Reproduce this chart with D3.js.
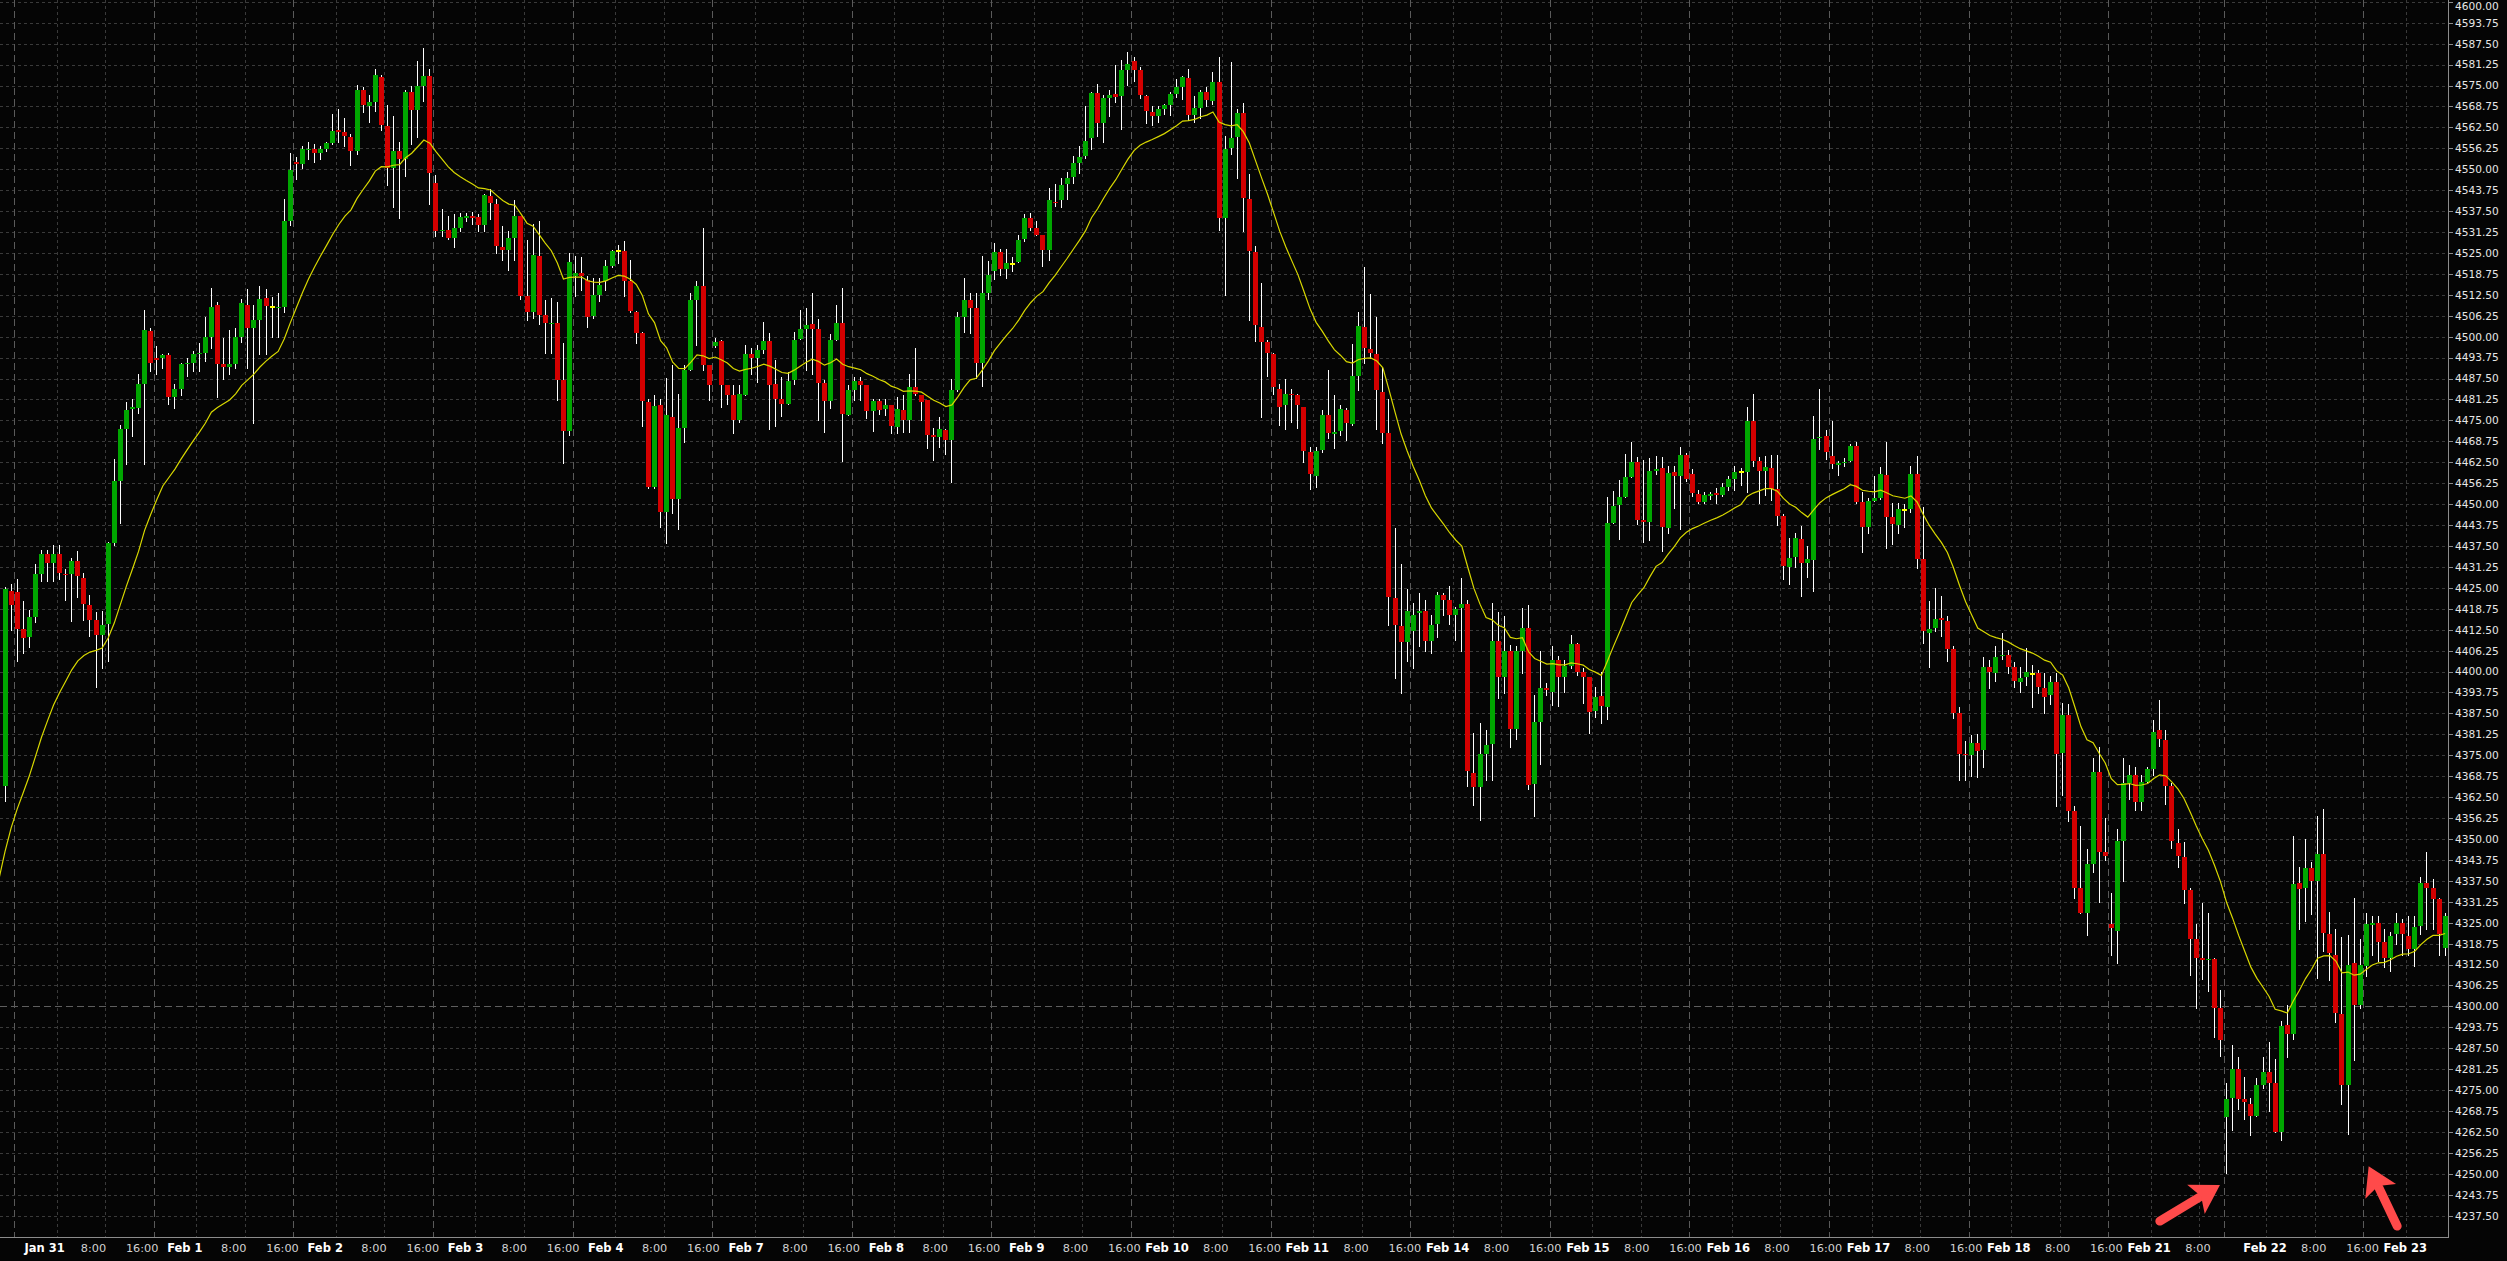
<!DOCTYPE html>
<html><head><meta charset="utf-8">
<script src="https://cdn.jsdelivr.net/npm/d3@7/dist/d3.min.js"></script>
<style>html,body{margin:0;padding:0;background:#050505;overflow:hidden}</style>
</head><body><svg id="c" width="2507" height="1261"></svg>
<script>
// ---------------- DATA (hourly bars) ----------------
const open = [4365.75,4424,4423.75,4412.75,4410.25,4416.25,4429,4435,4432.5,4435,
4429.25,4429,4433,4428,4420,4415.5,4411,4414.25,4438.25,4456.75,
4472.5,4478.5,4478.75,4485.75,4501.75,4493.5,4493.5,4494.5,4482,4484.25,
4491.75,4492.25,4494.75,4495,4500,4509.5,4491.75,4491,4491.75,4500,
4509.5,4502.5,4505,4511.5,4508.75,4508.5,4509,4534.5,4552.25,4551.5,
4555.75,4556,4554.75,4556,4557.75,4561.75,4561,4559.75,4555.5,4573.75,
4569,4570,4577.5,4563,4550.5,4555.5,4553,4573,4567.75,4575,
4577.75,4545.75,4531.5,4532,4529.5,4532.5,4535.5,4536,4535.75,4533.25,
4542,4539.75,4526.75,4525.75,4529.5,4536,4512,4507.5,4524,4506.5,
4503.75,4504,4487,4471.75,4518,4519,4517,4506.25,4512.5,4516.5,
4521,4525.5,4525.5,4516.5,4507.5,4501,4480.5,4455,4479.5,4447.5,
4476,4451.5,4472.75,4490,4511,4515,4491.5,4497.25,4498.75,4485.5,
4482.5,4475,4482.5,4494.75,4493.75,4496,4498.75,4486,4481.5,4480,
4487,4499.25,4502.25,4503.75,4502.25,4486.25,4480.75,4499,4504,4476.5,
4484,4486.75,4485.5,4477.75,4480.75,4478.5,4479.5,4473,4478,4475,
4485,4482.5,4481,4470.5,4470,4472,4469,4484,4505.75,4511,
4508.5,4492,4513,4519.5,4525.25,4520.25,4521.75,4522.25,4529.25,4535.5,
4532.5,4530.25,4526,4540.25,4540.75,4545.5,4547.75,4552,4554,4559.25,
4572.75,4563.75,4571.25,4572.5,4571.75,4579.75,4582.25,4579.5,4572,4567,
4566,4568,4569.25,4572.5,4574.5,4577.25,4566.25,4568.25,4573,4570.5,
4576,4535.5,4556.25,4559.5,4566.75,4541,4525.25,4503,4498.5,4494.75,
4484.5,4479.5,4482.75,4482.5,4479,4465.5,4458.5,4466.25,4476.5,4471,
4471.75,4478,4474,4488.25,4503,4496.25,4494.75,4483.5,4471.25,4422,
4413.5,4408.75,4412,4417.5,4418,4409,4414.25,4423,4421.25,4417,
4419,4420.25,4369.75,4365.5,4375.5,4378.5,4409,4398.5,4406,4382.75,
4406,4413,4366.5,4385,4395,4393.75,4403.5,4398.5,4401.75,4408.25,
4400,4398.25,4388.25,4392.75,4389.5,4444.25,4449.75,4452,4458,4462.5,
4445.25,4444.75,4459.75,4460.75,4443,4459.5,4458.25,4464.75,4459,4453,
4450.75,4452.5,4453.25,4452.75,4455,4457.5,4459.5,4459.5,4474.75,4463,
4460,4460.75,4454.5,4446.5,4431.25,4434.25,4439.5,4432.5,4433.25,4469.75,
4470.25,4464.5,4461.75,4462.25,4462.75,4467.5,4450.5,4443.25,4451,4451.75,
4458.75,4446,4443.75,4448.25,4448.5,4459,4433.5,4411.5,4413,4416,
4415,4406.75,4387.5,4375.5,4375,4378.75,4376.5,4401.25,4399.5,4404.5,
4405,4401.5,4397,4398.5,4399.25,4399.5,4395,4393,4397,4375.75,
4387,4358.5,4335.5,4328,4342.5,4370,4346,4324.5,4322.5,4349.5,
4366.75,4369,4361,4367,4370.75,4382.5,4379.5,4365.75,4348.75,4344.5,
4334.75,4320,4314.5,4313.75,4314.25,4299.5,4267,4272.75,4281.25,4272.25,
4271,4267.25,4276.5,4280.5,4277,4262.5,4294.5,4291.75,4336.75,4335.5,
4341.25,4337.5,4345.5,4321.5,4315.5,4297.75,4276.5,4313,4300.5,4312,
4324.25,4325,4319.25,4314.5,4321.5,4325,4321,4317,4324,4337,
4335.5,4332,4317.5];

const high = [4425.25,4426,4427.75,4421,4418.25,4432,4436.25,4436.25,4437.75,4437.75,
4430.5,4434,4436,4429.5,4423,4417.75,4418,4438.75,4463.5,4473.5,
4480.5,4481.5,4488.75,4508,4502.5,4497.25,4494.75,4495,4486,4492.25,
4493.5,4495.75,4498,4505.75,4514.5,4510.25,4499.5,4502,4502.5,4511.25,
4514.25,4509.5,4515.25,4514.25,4511.75,4513,4541,4554.75,4553.75,4557,
4558,4557.5,4557,4558,4566.5,4568,4565.25,4560.5,4575.25,4574.5,
4572.25,4580,4578,4569.25,4566,4558,4573.75,4575,4582.25,4586.25,
4580,4548.25,4538,4536,4536.5,4537,4537,4537.25,4536.5,4542.5,
4544,4541.25,4533,4531.5,4540.75,4536,4528.75,4533.75,4534.5,4511,
4511.5,4510.5,4498,4525,4524,4523.75,4518,4517.5,4517.5,4523,
4526,4527.5,4528.5,4523,4507.75,4501.25,4481.25,4482.5,4481.25,4487.75,
4491.5,4482.75,4491.5,4513,4516.5,4532.5,4491.5,4499.5,4499,4485.5,
4485.5,4485.5,4497.5,4496.5,4497.5,4504.25,4501,4493,4488,4489.5,
4501.5,4508,4508.5,4513,4505.25,4487,4500.75,4509.5,4514.5,4485.5,
4488,4488,4485.5,4481.5,4481.5,4481.5,4479.5,4482,4482.5,4489,
4496.5,4482.5,4481,4472.75,4476,4472.5,4487.5,4507.25,4517.5,4513,
4513,4524,4522.5,4528,4526.25,4526.25,4523.75,4530.25,4536.5,4537,
4534.5,4530.25,4544.5,4545.5,4547.5,4549.25,4554,4557,4569,4573,
4575.5,4572.25,4573.75,4581,4582.5,4585,4583.5,4580.5,4572.25,4569,
4568.75,4569.5,4573,4577,4577.75,4580,4572,4573.75,4574.5,4579,
4583.5,4560,4582,4568,4569.75,4548.5,4527,4516,4499,4495,
4486,4487.5,4484.5,4482.75,4479,4467,4467,4478,4490,4482.5,
4479.5,4478.75,4497.75,4507.25,4520.75,4512.75,4505.75,4490.5,4481.5,4443,
4432,4424.5,4420.5,4423.5,4421.5,4417,4423.75,4423.5,4425.5,4419.25,
4428,4421.25,4381.5,4384.5,4382.5,4420.5,4417.75,4416.5,4408,4407.5,
4419,4420,4393,4406,4396.5,4407.5,4404.5,4403.5,4411,4408.5,
4401,4398.5,4395.5,4400,4452,4454,4457.25,4465,4468.5,4464,
4463.25,4463.75,4464.5,4464,4461.25,4461.25,4467,4465.25,4460.5,4454.25,
4453.5,4453.75,4454.75,4456.25,4458.5,4461.25,4460.75,4479,4483,4464,
4464.5,4464.75,4464.75,4447,4439.75,4441.25,4443.5,4437.5,4476.25,4484.5,
4472,4474.75,4463,4463.75,4468,4468.5,4453.5,4451.75,4458.25,4461,
4468.5,4450.25,4450.25,4450,4461.25,4464.5,4449.25,4421,4425,4422.5,
4416.5,4407.5,4389.5,4379.25,4381,4381.25,4404.25,4403.5,4407.75,4411.5,
4406.5,4402.75,4401.25,4407,4402,4400.5,4399.5,4398.75,4399.5,4390.5,
4390.25,4359.75,4354,4347,4374.25,4377.5,4356.25,4334,4353,4374.25,
4372,4371.5,4369,4371.5,4385.5,4391.5,4382.5,4366.75,4353,4349,
4335.25,4324.5,4331,4327.75,4314.5,4305,4277,4288.5,4284.75,4279,
4272.75,4278.5,4285,4289.5,4284.25,4295.75,4300.5,4350.75,4341.5,4350,
4343,4357,4359,4328.25,4323,4320.75,4321.25,4332.5,4320.25,4327.75,
4327,4327,4323,4322.25,4328,4326.25,4327,4327,4338.5,4346,
4338,4332.25,4327.75];

const low = [4361.25,4412.5,4403,4405.5,4407.25,4414.75,4427,4427,4427,4427.5,
4421.25,4415,4422.25,4415.5,4410.75,4395.5,4401,4403,4437.75,4444.25,
4462,4470.25,4477.25,4462,4489.75,4488.75,4490.5,4479.75,4478.75,4482.5,
4488.25,4489.75,4489.75,4492.75,4496.5,4482,4487.5,4488.75,4490.5,4498.5,
4490.75,4474.25,4494.75,4494.75,4500,4500,4507.25,4533.25,4547,4550.25,
4553,4552.25,4553,4555.5,4557.5,4558,4557,4551.25,4554.5,4567,
4564,4567.25,4561.75,4545.25,4538.75,4535.5,4548,4557.5,4559.5,4570.5,
4539.75,4530,4530,4529.25,4526.75,4531.5,4534.5,4533.5,4531.5,4531.5,
4535.25,4525,4523,4520,4522.75,4511.25,4505,4505.5,4503.75,4495.25,
4495,4481,4462.25,4470.5,4512,4514,4502.75,4505.5,4510.75,4514,
4520.75,4522,4512.25,4507.25,4498.25,4473.25,4454.75,4454.75,4443.25,4438.5,
4447.25,4442.5,4468.5,4490,4497.5,4490,4481,4497,4479,4479.75,
4471.25,4474.5,4482.5,4489,4486.5,4495,4472.5,4473.25,4476.25,4480,
4486,4499.25,4490,4488.75,4475.25,4471.5,4478.75,4499,4462.75,4476.5,
4481,4481,4475.75,4471.75,4477,4476.5,4471.25,4471.25,4471.5,4471.5,
4482.5,4475,4466.75,4463.25,4467,4465,4456.5,4483.75,4501.25,4501,
4487.75,4485.25,4511.25,4517.25,4518.5,4517.5,4519.5,4522.25,4528.5,4532,
4530.25,4521,4523,4539,4538.75,4541,4545.75,4548.75,4553.5,4556,
4560,4558,4566,4570,4562,4575.25,4576.25,4571.25,4563.75,4563.25,
4564,4566.5,4566.25,4571.5,4571,4564.75,4564,4565.25,4568.75,4569.5,
4531.75,4512.5,4554.5,4547.5,4531.5,4505,4498.75,4476,4488.25,4483,
4473.5,4472.5,4474.5,4472.75,4462.5,4454.5,4455.25,4465.5,4469.75,4466.75,
4470.5,4469.25,4473.5,4484,4492.25,4493.5,4472.5,4468.25,4414,4398,
4393.5,4403,4401,4407.5,4406.25,4405.5,4410.25,4416.75,4414.25,4409.5,
4406.25,4365.75,4360.25,4355.75,4367.5,4367.5,4392,4393.5,4377.5,4380,
4399.5,4365,4357,4372.25,4393,4390,4389.75,4394,4401,4399,
4390.5,4381.5,4386.5,4384.5,4385.75,4444.25,4439.5,4452,4458,4444,
4438.75,4439.25,4459,4436,4441.5,4448.75,4442.5,4457,4452.5,4450.25,
4450.25,4451.5,4450.25,4452.5,4454.25,4454.25,4455.75,4453.75,4461.25,4450.25,
4452.75,4451.25,4443.75,4427.5,4426,4431.25,4422.5,4428.25,4424,4466.5,
4463.5,4460.75,4458.75,4461.25,4462.75,4450.25,4435.75,4441.25,4451,4451.5,
4437,4438,4441.5,4443.25,4447.75,4431,4408.5,4401.25,4412,4410.5,
4403,4386.25,4367.5,4367.5,4368.75,4368.5,4371.5,4395,4397.25,4403.75,
4399.5,4395.25,4394,4396,4389.5,4393.5,4387.5,4390.25,4359.75,4363,
4355.5,4332.5,4327.75,4321.25,4340.25,4331.25,4343.75,4315.25,4313,4337.5,
4362,4358.75,4358.75,4367,4369,4377.75,4360.5,4347.25,4341.75,4331,
4309.25,4299.5,4308.25,4304.5,4291,4285.25,4250.25,4263,4269.25,4266.5,
4261.5,4267.25,4275.5,4268.75,4262.5,4260.25,4284.75,4290.25,4323,4325.5,
4327.5,4308.5,4316.5,4307.75,4295.25,4271,4262,4284,4299.5,4309,
4315.25,4313.5,4311.75,4310.5,4318.75,4315.5,4315.5,4312,4321.5,4323,
4323,4315.25,4315.5];

const close = [4424.5,4420,4412.75,4410,4416.25,4429,4435,4432.5,4435,4429.5,
4428.75,4433,4428.5,4420.25,4415.5,4411,4414,4438.25,4456.75,4472.5,
4478,4479,4485.75,4502,4492,4493,4494.5,4482,4484.25,4491.75,
4492.25,4494.75,4495.25,4500,4509,4491.75,4491,4491.75,4500,4510,
4502.5,4505,4511.25,4509.25,4508.75,4508.75,4534.5,4549.75,4551.5,4556,
4556,4554.75,4556,4557.75,4561.5,4561,4560,4555.5,4573.75,4569.25,
4570,4578,4563.25,4550.5,4555.5,4553,4573,4567.75,4575,4577.75,
4548.75,4531.5,4531.75,4529.5,4532.5,4535.75,4536,4535.5,4533.25,4542.25,
4540,4527,4526,4529.5,4536,4512,4507.5,4524.5,4506.5,4504,
4504,4487,4471.75,4522.25,4519,4518,4506,4512.5,4515.5,4521,
4525.5,4525.5,4516.5,4507.75,4501,4480.75,4455,4479.25,4447.75,4476.5,
4451.5,4472.75,4490,4511,4515,4491.5,4485.5,4498.5,4485.5,4482.5,
4475,4482.75,4494.75,4493.75,4496,4498.75,4485.5,4481.5,4480,4486.75,
4499,4502.25,4503.5,4502.25,4486.25,4480.75,4499,4504,4477,4484,
4486.75,4485.5,4477.75,4480.75,4478.25,4479.5,4473.25,4478.5,4475,4485,
4483,4480.5,4470.5,4470,4472.5,4469,4484,4505.75,4511,4508.5,
4492,4513,4518.5,4525.25,4520.25,4522,4521.75,4528.75,4535.5,4532.5,
4530.25,4526,4540.75,4540,4545.25,4547.5,4551.75,4553.75,4558.5,4572.75,
4563.75,4571.25,4572.25,4571.5,4579.75,4581.5,4579.75,4572.25,4567.25,4566,
4568,4569.25,4572.5,4574.5,4577.5,4566.25,4568.25,4573,4570.75,4576,
4535.5,4556,4559.25,4566.75,4541.5,4525.5,4503.5,4498.5,4495.25,4485,
4479,4482.75,4482.5,4479.5,4465.75,4459,4466,4476.5,4471.25,4471.5,
4478.5,4474.25,4488.25,4503.25,4496.5,4495,4484,4471.25,4422.25,4413.75,
4408.75,4418,4417,4418,4409,4414,4423,4421.5,4417,4418.75,
4420.25,4370.25,4365.5,4375.5,4378,4409,4398.5,4406,4382.75,4406,
4413,4366,4385,4395,4394.5,4403.5,4398.5,4401.75,4408.25,4400,
4398.25,4388,4392.25,4389.75,4444.25,4449.5,4452,4458,4462.5,4445.25,
4444.75,4459.75,4460.5,4443.25,4459.25,4458.25,4464.75,4457.5,4453.25,4450.75,
4452.75,4453,4452.75,4455,4457.5,4459.5,4459.5,4474.75,4463,4460,
4461,4454.5,4446.5,4431.5,4434,4439.75,4432.5,4433.5,4469.5,4470,
4465.5,4462,4462.25,4462.5,4467.5,4450.5,4443.25,4451,4451.75,4459,
4446.25,4444,4448.5,4448.25,4459,4433.5,4412,4412.75,4415.75,4415.25,
4406.75,4387.5,4375.5,4375,4378.75,4376.25,4401.25,4400,4404.25,4405,
4401.5,4397.25,4398,4400,4399.25,4395.25,4392.5,4397,4375.5,4387,
4358.5,4335.5,4328,4342.5,4370,4346,4345,4323.5,4349.5,4366.75,
4369,4361,4367,4370.75,4382,4379.75,4365.75,4349.5,4345,4334.75,
4320.25,4314.5,4313.75,4314.25,4299.5,4290,4272.25,4281.25,4272.25,4271.5,
4267.25,4276.5,4280.5,4277,4262.5,4294.25,4291.75,4336.5,4335,4341.25,
4337.5,4345.5,4322,4316,4298,4276.5,4312.5,4300.5,4312.5,4324.5,
4325,4319.25,4314.5,4321,4325,4321.5,4317,4323.75,4337,4335.5,
4332,4321.5,4327];

// moving average (exponential, as drawn by the platform) : period and value before first bar
const maPeriod = 20;
const maPrev = 4338;

// price axis ticks
const yTicks = [4237.5,4243.75,4250,4256.25,4262.5,4268.75,4275,4281.25,4287.5,4293.75,
4300,4306.25,4312.5,4318.75,4325,4331.25,4337.5,4343.75,4350,4356.25,
4362.5,4368.75,4375,4381.25,4387.5,4393.75,4400,4406.25,4412.5,4418.75,
4425,4431.25,4437.5,4443.75,4450,4456.25,4462.5,4468.75,4475,4481.25,
4487.5,4493.75,4500,4506.25,4512.5,4518.75,4525,4531.25,4537.5,4543.75,
4550,4556.25,4562.5,4568.75,4575,4581.25,4587.5,4593.75,4600];
const levelPrice = 4300;

// time axis: bar index where each labelled time starts, its label and kind
const timeBars = [2,9,17,25,32,40,48,55,63,71,78,86,94,101,109,117,124,132,140,147,155,163,
170,178,186,193,201,209,216,224,232,239,247,255,262,270,278,285,293,301,308,316,324,
331,339,347,354,362,366,373,381,389,396];
const timeLabels = ["","Jan 31","8:00","16:00","Feb 1","8:00","16:00","Feb 2","8:00","16:00",
"Feb 3","8:00","16:00","Feb 4","8:00","16:00","Feb 7","8:00","16:00","Feb 8","8:00","16:00",
"Feb 9","8:00","16:00","Feb 10","8:00","16:00","Feb 11","8:00","16:00","Feb 14","8:00","16:00",
"Feb 15","8:00","16:00","Feb 16","8:00","16:00","Feb 17","8:00","16:00","Feb 18","8:00","16:00",
"Feb 21","8:00","","Feb 22","8:00","16:00","Feb 23"];
const timeKinds = ["s","d","h","s","d","h","s","d","h","s","d","h","s","d","h","s","d","h","s","d","h","s",
"d","h","s","d","h","s","d","h","s","d","h","s","d","h","s","d","h","s","d","h","s",
"d","h","s","d","h","s","d","h","s","d"];

// annotation arrows (bar index / price of tail and tip)
const arrowTailBar = [355.0, 394.1], arrowTailPrice = [4235.9, 4234.4];
const arrowTipBar = [364.9, 389.4], arrowTipPrice = [4246.7, 4252.3];

// ---------------- DRAWING ----------------
const W = 2507, H = 1261, plotR = 2448, plotB = 1237;
const n = Math.min(open.length, high.length, low.length, close.length);
const x = d3.scaleLinear().domain([0, 402]).range([5, 5 + 402 * 6.07]);
const y = d3.scaleLinear().domain([4237.5, 4600]).range([1215.7, 1.8]);
const lx = d3.scaleLinear().domain([8.5, 395.5]).range([44.6, 2405.3]);

const svg = d3.select('#c');
svg.append('rect').attr('width', W).attr('height', H).attr('fill', '#050505');
svg.append('defs').append('clipPath').attr('id', 'pc')
  .append('rect').attr('x', 0).attr('y', 0).attr('width', plotR).attr('height', plotB);

const grid = svg.append('g').attr('clip-path', 'url(#pc)').attr('shape-rendering', 'crispEdges');
grid.selectAll('line.h').data(yTicks).join('line')
  .attr('x1', 0).attr('x2', plotR)
  .attr('y1', d => Math.round(y(d)) + 0.5).attr('y2', d => Math.round(y(d)) + 0.5)
  .attr('stroke', d => d === levelPrice ? '#5e5e5e' : '#3a3a3a')
  .attr('stroke-dasharray', d => d === levelPrice ? '7,4' : '3,3');
grid.selectAll('line.v').data(timeBars).join('line')
  .attr('x1', d => Math.round(x(d - 0.5)) + 0.5).attr('x2', d => Math.round(x(d - 0.5)) + 0.5)
  .attr('y1', 0).attr('y2', plotB)
  .attr('stroke', (d, i) => timeKinds[i] === 's' ? '#5a5a5a' : '#3a3a3a')
  .attr('stroke-dasharray', (d, i) => timeKinds[i] === 's' ? '7,4' : '3,3');

const idx = d3.range(n);
const cg = svg.append('g').attr('clip-path', 'url(#pc)').attr('shape-rendering', 'crispEdges');
cg.selectAll('line.w').data(idx).join('line')
  .attr('x1', i => Math.round(x(i) - 2.5) + 2.5).attr('x2', i => Math.round(x(i) - 2.5) + 2.5)
  .attr('y1', i => Math.round(y(high[i]))).attr('y2', i => Math.round(y(low[i])) + 1)
  .attr('stroke', '#ffffff').attr('stroke-width', 1);
cg.selectAll('rect.b').data(idx).join('rect')
  .attr('x', i => Math.round(x(i) - 2.5))
  .attr('width', 5)
  .attr('y', i => open[i] === close[i] ? Math.round(y(open[i])) - 1 : Math.round(y(Math.max(open[i], close[i]))))
  .attr('height', i => open[i] === close[i] ? 2 :
      Math.max(1, Math.round(y(Math.min(open[i], close[i]))) - Math.round(y(Math.max(open[i], close[i])))))
  .attr('fill', i => open[i] === close[i] ? '#ffff00' : (close[i] > open[i] ? '#00a600' : '#d40000'));

// EMA line
const alpha = 2 / (maPeriod + 1);
const ma = [[-1, maPrev]];
let m = maPrev;
for (let i = 0; i < n; i++) { m = m + alpha * (close[i] - m); ma.push([i, m]); }
svg.append('g').attr('clip-path', 'url(#pc)').append('path')
  .attr('d', d3.line().x(d => x(d[0])).y(d => y(d[1]))(ma))
  .attr('fill', 'none').attr('stroke', '#d8d800').attr('stroke-width', 1.2);

// axes
const ax = svg.append('g').attr('shape-rendering', 'crispEdges');
ax.append('line').attr('x1', plotR + 0.5).attr('x2', plotR + 0.5).attr('y1', 0).attr('y2', plotB + 0.5)
  .attr('stroke', '#8c8c8c');
ax.append('line').attr('x1', 0).attr('x2', plotR + 0.5).attr('y1', plotB + 0.5).attr('y2', plotB + 0.5)
  .attr('stroke', '#8c8c8c');
ax.selectAll('line.t').data(yTicks).join('line')
  .attr('x1', plotR + 1).attr('x2', plotR + 5)
  .attr('y1', d => Math.round(y(d)) + 0.5).attr('y2', d => Math.round(y(d)) + 0.5)
  .attr('stroke', '#8c8c8c');
svg.append('g').selectAll('text').data(yTicks).join('text')
  .attr('x', plotR + 7).attr('y', d => Math.max(y(d) + 3.9, 10))
  .attr('font-family', 'DejaVu Sans').attr('font-size', '10.6px').attr('fill', '#e6e6e6')
  .text(d => d.toFixed(2));

svg.append('g').selectAll('text').data(timeBars).join('text')
  .attr('x', d => lx(d - 0.5)).attr('y', 1252)
  .attr('text-anchor', 'middle')
  .attr('font-family', 'DejaVu Sans')
  .attr('font-size', (d, i) => timeKinds[i] === 'd' ? '11.5px' : '11.3px')
  .attr('font-weight', (d, i) => timeKinds[i] === 'd' ? 'bold' : 'normal')
  .attr('fill', (d, i) => timeKinds[i] === 'd' ? '#ffffff' : '#d2d2d2')
  .text((d, i) => timeLabels[i]);

// arrows
const ag = svg.append('g');
arrowTipBar.forEach((tb, i) => {
  const tx = x(tb), ty = y(arrowTipPrice[i]);
  const sx = x(arrowTailBar[i]), sy = y(arrowTailPrice[i]);
  const dx = tx - sx, dy = ty - sy, L = Math.hypot(dx, dy), ux = dx / L, uy = dy / L;
  const hl = 28, hw = 17;
  const bx = tx - ux * hl, by = ty - uy * hl;
  ag.append('line').attr('x1', sx).attr('y1', sy).attr('x2', bx + ux * 4).attr('y2', by + uy * 4)
    .attr('stroke', '#ff4a4a').attr('stroke-width', 9).attr('stroke-linecap', 'round');
  ag.append('path').attr('d', `M${tx},${ty}L${bx - uy * hw},${by + ux * hw}L${bx + ux * 6},${by + uy * 6}L${bx + uy * hw},${by - ux * hw}Z`)
    .attr('fill', '#ff4a4a');
});
</script>
</body></html>
